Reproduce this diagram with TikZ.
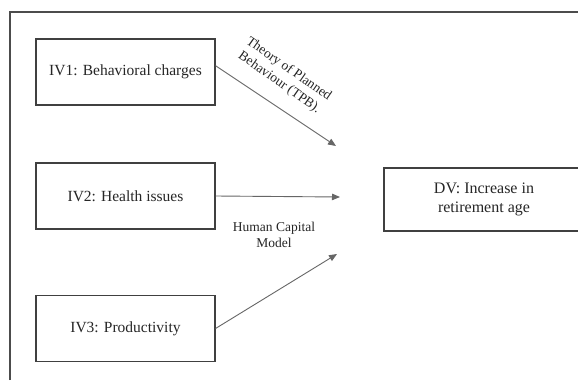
\documentclass[tikz,border=0pt]{standalone}
\usepackage{fontspec}
\setmainfont{Liberation Serif}
\usetikzlibrary{arrows.meta}
\begin{document}
\begin{tikzpicture}[x=1pt,y=-1pt,
  ivbox/.style={draw=black!75,line width=1.1pt,minimum width=179pt,minimum height=66pt,inner sep=0pt,text=black!85,font=\fontsize{15.5}{18}\selectfont},
  conn/.style={draw=black!60,line width=0.9pt,-{Triangle[length=8pt,width=6.5pt]}},
  lbl/.style={text=black!85,align=center,inner sep=0pt}]
\useasboundingbox (0,0) rectangle (578,380);
\clip (0,0) rectangle (578,380);
\fill[white] (0,0) rectangle (578,380);
% frame
\draw[black!70,line width=1.2pt] (10,380) -- (10,12) -- (590,12);
% boxes
\node[ivbox] (iv1) at (125.5,72) {IV1: Behavioral charges};
\node[ivbox] (iv2) at (125.5,196) {IV2: Health issues};
\node[ivbox] (iv3) at (125.5,328.5) {IV3: Productivity};
\node[ivbox,minimum width=200pt,minimum height=63pt,align=center,font=\fontsize{16}{19}\selectfont] (dv) at (484,199.5) {DV: Increase in\\retirement age};
% arrow tips
\coordinate (t1) at (336,146);
\coordinate (t2) at (340,197);
\coordinate (t3) at (337,254);
\draw[conn] (iv1.4.5) -- (t1);
\draw[conn] (iv2.east) -- (t2);
\draw[conn] (iv3.east) -- (t3);
% labels
\node[lbl,rotate=-35,font=\fontsize{13.5}{16.5}\selectfont] (tpb) at (284,76) {Theory of Planned\\Behaviour (TPB).};
\node[lbl,font=\fontsize{13.5}{16}\selectfont] (hcm) at (274,235) {Human Capital\\Model};
\end{tikzpicture}
\end{document}
